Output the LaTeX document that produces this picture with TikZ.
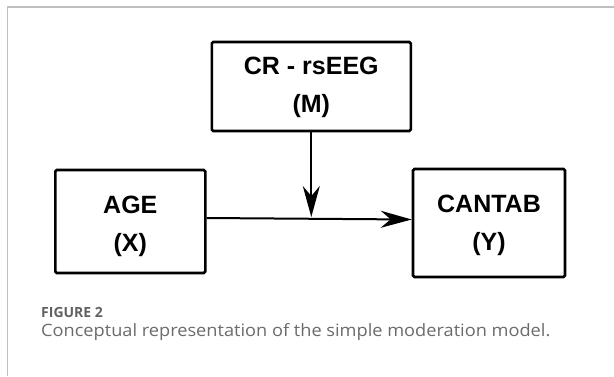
\documentclass[tikz,border=0pt]{standalone}
\usepackage{fontspec}
\setmainfont{Liberation Sans}
\newfontfamily\capfont{Open Sans}[FakeStretch=1.07]
\newfontfamily\figfont{Open Sans}
\usetikzlibrary{arrows.meta}
\newcommand{\boxtext}[3]{\raisebox{0pt}[\dimexpr\height-#1\relax][\dimexpr\depth+#1\relax]{\begin{tabular}{@{}c@{}}#2\\#3\end{tabular}}}
\tikzset{varbox/.style = {draw, line width=2.6pt, rounded corners=1.5pt,
                          font=\fontsize{25}{38}\selectfont\bfseries, inner sep=0pt},
         arr/.style = {line width=2pt, -{Stealth[length=31pt, width=17pt, inset=10pt]}}}
\begin{document}
\begin{tikzpicture}[x=1pt, y=-1pt]
        \useasboundingbox (0,0) rectangle (614,376);
        \draw[black!25, line width=1.5pt] (7.3,376) -- (7.3,7) -- (614,7);
        \node[varbox, minimum width=199pt, minimum height=89pt] (M) at (311.3,86.5) {\boxtext{0.9pt}{CR - rsEEG}{(M)}};
        \node[varbox, minimum width=150pt, minimum height=103pt] (X) at (130.3,221.5) {\boxtext{-3.4pt}{AGE}{(X)}};
        \node[varbox, minimum width=152pt, minimum height=108pt] (Y) at (489,223) {\boxtext{-0.9pt}{CANTAB}{(Y)}};
        \coordinate (mid) at (311.3,217);
        \draw[arr] ([yshift=3.5pt]X.east) -- ([yshift=3.5pt]Y.west);
        \draw[arr] (M.south) -- (mid);
        \node[anchor=base west, inner sep=0pt, font=\figfont\bfseries\fontsize{14}{17}\selectfont, text=black!62] (fig) at (41,317) {FIGURE 2};
        \node[anchor=base west, inner sep=0pt, font=\capfont\fontsize{17}{19}\selectfont, text=black!58] (cap) at (41,336) {Conceptual representation of the simple moderation model.};
    \end{tikzpicture}
\end{document}
